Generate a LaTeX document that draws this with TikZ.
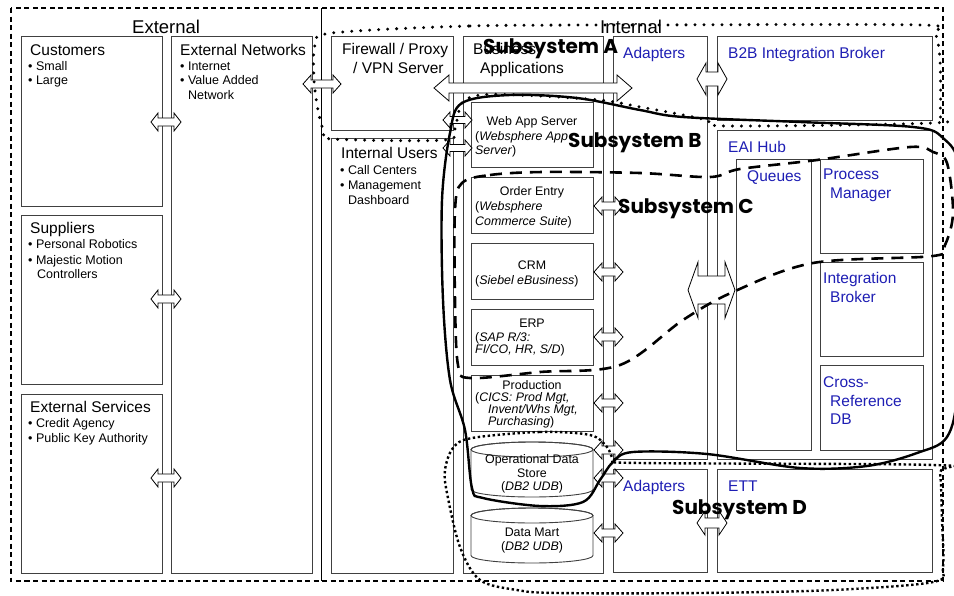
\documentclass[tikz,border=0pt]{standalone}
\usepackage{fontspec}
\setmainfont{Liberation Sans}
\newfontfamily\subfont{Poppins}
\definecolor{lblue}{RGB}{30,30,180}
\newcommand\bx[5]{\node[box, minimum width={(#4-#2)*1pt}, minimum height={(#5-#3)*1pt}] (#1) at (#2,#3) {};}
\newcommand\dblarr[7]{%
  \draw[barrow] (#2,#4) -- (#2+#7,#4-#5/2) -- (#2+#7,#4-#6/2) -- (#3-#7,#4-#6/2) -- (#3-#7,#4-#5/2) -- (#3,#4) -- (#3-#7,#4+#5/2) -- (#3-#7,#4+#6/2) -- (#2+#7,#4+#6/2) -- (#2+#7,#4+#5/2) -- cycle;
  \coordinate (#1) at ({(#2+#3)/2},#4);}
\newcommand\cyl[3]{% name, ytop, ybottom
  \path[draw=black!75, line width=0.9pt, fill=white] (471,#2+7.5) -- (471,#3-7.5) arc[start angle=180,end angle=360,x radius=61pt,y radius=7.5pt] -- (593,#2+7.5) arc[start angle=0,end angle=180,x radius=61pt,y radius=7.5pt] -- cycle;
  \draw[black!75, line width=0.9pt] (532,#2+7.5) ellipse[x radius=61pt, y radius=7.5pt];
  \coordinate (#1) at (532,{(#2+#3)/2});}
\begin{document}
\begin{tikzpicture}[x=1pt,y=-1pt,
  box/.style={draw=black!75, line width=0.9pt, fill=white, inner sep=0, anchor=north west},
  hd/.style={font=\fontsize{15.5}{18}\selectfont, inner sep=0, anchor=base west},
  hdb/.style={hd, text=lblue},
  big/.style={font=\fontsize{18.5}{22}\selectfont, inner sep=0, anchor=base west},
  bl/.style={font=\fontsize{12.5}{15}\selectfont, inner sep=0, anchor=base west},
  ap/.style={font=\fontsize{12.4}{14}\selectfont, inner sep=0, anchor=base west},
  apc/.style={ap, anchor=base},
  barrow/.style={draw=black, line width=0.8pt, fill=white, line join=miter},
  sublbl/.style={font=\subfont\bfseries\fontsize{20}{24}\selectfont, inner sep=0, anchor=base west},
  ssA/.style={line width=3.3pt, line cap=round, dash pattern=on 0pt off 9pt},
  ssB/.style={line width=2.4pt},
  ssC/.style={line width=2.6pt, dash pattern=on 12pt off 8pt},
  ssD/.style={line width=2.4pt, dash pattern=on 2.4pt off 2.6pt},
]
\useasboundingbox (0,0) rectangle (954,595);
\fill[white] (0,0) rectangle (954,595);
% frame
\draw[line width=1.6pt, dash pattern=on 5pt off 3.5pt] (11,8) rectangle (943,581);
\draw[line width=1.3pt] (321.5,8) -- (321.5,581);
% boxes
\bx{cust}{21}{36}{162}{206}
\bx{supp}{21}{215}{162}{384}
\bx{extsvc}{21}{394}{162}{573}
\bx{extnet}{171}{36}{312}{573}
\bx{fw}{331}{36}{453}{130}
\bx{iusers}{331}{138}{453}{573}
\bx{bizapps}{463}{36}{603}{573}
\bx{webapp}{471}{102}{593}{167}
\bx{order}{471}{177}{593}{233}
\bx{crm}{471}{243}{593}{299}
\bx{erp}{471}{309}{593}{365}
\bx{prod}{471}{375}{593}{431}
\bx{adaptA}{613}{36}{707}{459}
\bx{b2b}{717}{36}{932}{120}
\bx{eai}{717}{130}{932}{459}
\bx{queues}{736}{159}{811}{450}
\bx{procmgr}{820}{159}{923}{253}
\bx{intbrk}{820}{262}{923}{356}
\bx{xref}{820}{365}{923}{450}
\bx{adaptB}{613}{469}{707}{572}
\bx{ett}{717}{469}{932}{572}
\cyl{ods}{442}{497}
\cyl{dmart}{508}{563}
% block arrows
\dblarr{a1}{151}{181}{122}{18}{8}{7}
\dblarr{a2}{151}{181}{299}{18}{8}{7}
\dblarr{a3}{151}{181}{478}{18}{8}{7}
\dblarr{a4}{303}{341}{84}{18}{8}{8}
\dblarr{a5}{434}{632}{88}{26}{10}{15}
\dblarr{a6}{443}{472}{120}{16}{7}{7}
\dblarr{a7}{443}{472}{148}{16}{7}{7}
\dblarr{a8}{594}{623}{206}{18}{8}{8}
\dblarr{a9}{594}{623}{272}{18}{8}{8}
\dblarr{a10}{594}{623}{337}{18}{8}{8}
\dblarr{a11}{594}{623}{403}{18}{8}{8}
\dblarr{a12}{594}{623}{450}{18}{8}{8}
\dblarr{a13}{594}{623}{478}{18}{8}{8}
\dblarr{a14}{594}{623}{533}{18}{8}{8}
\dblarr{a15}{697}{727}{79}{32}{14}{9}
\dblarr{a16}{688}{735}{290}{56}{28}{10}
\dblarr{a17}{697}{727}{523}{24}{10}{8}
% titles
\node[big] (lext) at (132,33) {External};
\node[big] (lint) at (600,33) {Internal};
% external column
\node[hd] (tcust) at (30,55) {Customers};
\node[bl] (tcust1) at (28,70.5) {• Small};
\node[bl] (tcust2) at (28,84.5) {• Large};
\node[hd] (tsupp) at (30,233.5) {Suppliers};
\node[bl] (tsupp1) at (28,248.5) {• Personal Robotics};
\node[bl] (tsupp2) at (28,264) {• Majestic Motion};
\node[bl] (tsupp3) at (37,278.5) {Controllers};
\node[hd] (tsvc) at (30,412.5) {External Services};
\node[bl] (tsvc1) at (28,427.5) {• Credit Agency};
\node[bl] (tsvc2) at (28,442.5) {• Public Key Authority};
\node[hd] (tnet) at (180,55) {External Networks};
\node[bl] (tnet1) at (180,70.5) {• Internet};
\node[bl] (tnet2) at (180,84.5) {• Value Added};
\node[bl] (tnet3) at (188,99) {Network};
% internal
\node[hd] (tfw1) at (342,54.5) {Firewall / Proxy};
\node[hd] (tfw2) at (353,73.5) {/ VPN Server};
\node[hd] (tba1) at (473,54.5) {Business};
\node[hd] (tba2) at (480,73.5) {Applications};
\node[hd] (tiu) at (341,158.5) {Internal Users};
\node[bl] (tiu1) at (340,174.5) {• Call Centers};
\node[bl] (tiu2) at (340,189.5) {• Management};
\node[bl] (tiu3) at (348,204.5) {Dashboard};
% apps
\node[apc] (tw1) at (532,125.5) {Web App Server};
\node[ap] (tw2) at (475,140.5) {(\textit{Websphere App}};
\node[ap] (tw3) at (475,154.5) {\textit{Server})};
\node[apc] (to1) at (532,195.5) {Order Entry};
\node[ap] (to2) at (475,210.5) {(\textit{Websphere}};
\node[ap] (to3) at (475,225.5) {\textit{Commerce Suite})};
\node[apc] (tc1) at (532,269.5) {CRM};
\node[ap] (tc2) at (475,284.5) {(\textit{Siebel eBusiness})};
\node[apc] (te1) at (532,327.5) {ERP};
\node[ap] (te2) at (475,341.5) {(\textit{SAP R/3:}};
\node[ap] (te3) at (475,353.5) {\textit{FI/CO, HR, S/D})};
\node[apc] (tp1) at (532,389.5) {Production};
\node[ap] (tp2) at (475,401.5) {(\textit{CICS: Prod Mgt,}};
\node[ap] (tp3) at (488,413.5) {\textit{Invent/Whs Mgt,}};
\node[ap] (tp4) at (488,425.5) {\textit{Purchasing})};
\node[apc] (td1) at (532,463.5) {Operational Data};
\node[apc] (td2) at (532,477.5) {Store};
\node[apc] (td3) at (532,490.5) {(\textit{DB2 UDB})};
\node[apc] (tm1) at (532,536.5) {Data Mart};
\node[apc] (tm2) at (532,550.5) {(\textit{DB2 UDB})};
% blue labels
\node[hdb] (tad1) at (623,58.5) {Adapters};
\node[hdb] (tb2b) at (728,58.5) {B2B Integration Broker};
\node[hdb] (teai) at (728,152.5) {EAI Hub};
\node[hdb] (tq) at (747,181.5) {Queues};
\node[hdb] (tpm1) at (823,179.5) {Process};
\node[hdb] (tpm2) at (830,198.5) {Manager};
\node[hdb] (tib1) at (823,283.5) {Integration};
\node[hdb] (tib2) at (830,302.5) {Broker};
\node[hdb] (tx1) at (823,387.5) {Cross-};
\node[hdb] (tx2) at (830,406.5) {Reference};
\node[hdb] (tx3) at (830,424.5) {DB};
\node[hdb] (tad2) at (623,491.5) {Adapters};
\node[hdb] (tett) at (728,491.5) {ETT};
% subsystems
\draw[ssA] plot[smooth cycle, tension=0.5] coordinates {(332,33) (470,26) (640,25) (920,25) (935,33) (940,60) (940,115) (933,123) (727,126) (707,120) (673,113) (640,107) (600,100) (520,95) (480,95) (462,103) (455,127) (445,140) (332,139) (324,132) (318,110) (314,80) (315,45)};
\draw[ssB] plot[smooth cycle, tension=0.55] coordinates {(462,103) (510,95) (577,98) (640,110) (683,117) (800,122) (913,127) (943,138) (960,170) (964,280) (958,390) (947,437) (917,453) (867,466) (800,468) (707,454) (633,452) (613,462) (600,480) (583,502) (540,506) (483,498) (472,488) (465,430) (450,380) (443,300) (442,200) (450,133)};
\draw[ssC] plot[smooth cycle, tension=0.55] coordinates {(462,183) (490,175) (543,172) (640,173) (710,177) (740,169) (817,160) (910,147) (933,152) (947,163) (953,213) (945,245) (933,256) (813,263) (733,292) (683,320) (620,365) (540,372) (470,378) (458,365) (455,300) (455,210)};
\draw[ssD] plot[smooth cycle, tension=0.55] coordinates {(472,438) (540,432) (590,435) (607,447) (615,460) (640,463) (933,465) (940,473) (942,520) (943,567) (933,582) (833,590) (700,593) (557,593) (517,590) (480,580) (460,547) (447,493) (445,470) (453,448)};
\node[sublbl] (sA) at (483,53) {Subsystem A};
\node[sublbl] (sB) at (568,147) {Subsystem B};
\node[sublbl] (sC) at (618,213) {Subsystem C};
\node[sublbl] (sD) at (672,514) {Subsystem D};
\end{tikzpicture}
\end{document}
